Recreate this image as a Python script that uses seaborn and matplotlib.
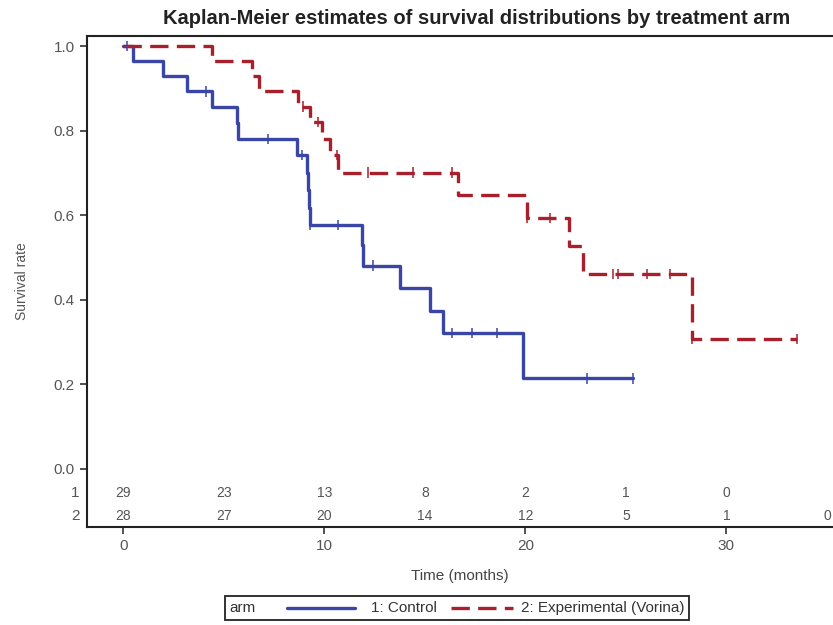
import numpy as np
import pandas as pd
import matplotlib
matplotlib.use('Agg')
import matplotlib.pyplot as plt
import seaborn as sns
from matplotlib.lines import Line2D
from matplotlib.offsetbox import AnchoredOffsetbox, HPacker, TextArea, DrawingArea
from matplotlib import transforms

# Kaplan-Meier steps (months, survival)
ctrl_time = [0, 0.50, 1.99, 3.18, 4.40, 5.64, 5.72, 8.66, 9.12, 9.17, 9.22, 9.27,
             11.86, 11.93, 13.77, 15.26, 15.92, 19.87, 25.36]
ctrl_surv = [1.0, 0.964, 0.929, 0.893, 0.856, 0.818, 0.781, 0.742, 0.701, 0.660, 0.618, 0.577,
             0.529, 0.481, 0.428, 0.374, 0.321, 0.214, 0.214]
ctrl_cens_time = [0.17, 4.11, 7.20, 8.88, 9.29, 10.68, 12.42, 16.34, 17.33, 18.58, 23.05, 25.36]
ctrl_cens_surv = [1.0, 0.893, 0.781, 0.742, 0.577, 0.577, 0.481, 0.321, 0.321, 0.321, 0.214, 0.214]

exp_time = [0, 4.40, 6.39, 6.77, 8.69, 9.29, 9.87, 10.28, 10.67, 16.67, 20.07, 22.17, 22.87, 28.28, 33.52]
exp_surv = [1.0, 0.964, 0.929, 0.893, 0.857, 0.820, 0.781, 0.742, 0.701, 0.647, 0.593, 0.527, 0.461, 0.307, 0.307]
exp_cens_time = [8.94, 9.69, 10.63, 12.17, 14.41, 16.35, 20.07, 21.23, 24.36, 24.61, 26.05, 27.20, 28.28, 33.52]
exp_cens_surv = [0.857, 0.820, 0.742, 0.701, 0.701, 0.701, 0.593, 0.593, 0.461, 0.461, 0.461, 0.461, 0.307, 0.307]

# numbers at risk
risk_times = [0, 5, 10, 15, 20, 25, 30, 35]
ctrl_risk = [29, 23, 13, 8, 2, 1, 0, None]
exp_risk = [28, 27, 20, 14, 12, 5, 1, 0]

arms = ['1: Control', '2: Experimental (Vorina)']
colors = {arms[0]: '#3a46a6', arms[1]: '#a8202c'}

df = pd.concat([
    pd.DataFrame({'time': ctrl_time, 'surv': ctrl_surv, 'arm': arms[0]}),
    pd.DataFrame({'time': exp_time, 'surv': exp_surv, 'arm': arms[1]}),
], ignore_index=True)
df_cens = pd.concat([
    pd.DataFrame({'time': ctrl_cens_time, 'surv': ctrl_cens_surv, 'arm': arms[0]}),
    pd.DataFrame({'time': exp_cens_time, 'surv': exp_cens_surv, 'arm': arms[1]}),
], ignore_index=True)

sns.set_theme(style='ticks')
plt.rcParams['font.family'] = ['Liberation Sans', 'DejaVu Sans']

fig = plt.figure(figsize=(8.33, 6.25), dpi=100)
ax = fig.add_axes([0.104, 0.157, 0.896, 0.7854])

sns.lineplot(data=df, x='time', y='surv', hue='arm', style='arm', hue_order=arms,
             palette=colors, dashes={arms[0]: '', arms[1]: (5.5, 2.5)},
             estimator=None, sort=True, drawstyle='steps-post', linewidth=2.4,
             legend=False, ax=ax)
sns.scatterplot(data=df_cens, x='time', y='surv', hue='arm', hue_order=arms,
                palette=colors, marker='|', s=55, linewidth=1.1, legend=False, ax=ax, zorder=3)

ax.set_xlim(-1.82, 35.3)
ax.set_ylim(-0.137, 1.024)
ax.set_xticks([0, 10, 20, 30])
ax.set_yticks([0.0, 0.2, 0.4, 0.6, 0.8, 1.0])
ax.set_yticklabels(['0.0', '0.2', '0.4', '0.6', '0.8', '1.0'])
ax.tick_params(axis='both', labelsize=11, labelcolor='#555555', length=5, width=1.2,
               color='#333333', direction='out')
for sp in ['left', 'top', 'bottom']:
    ax.spines[sp].set_linewidth(1.5)
    ax.spines[sp].set_color('#222222')
ax.spines['right'].set_visible(False)

ax.set_xlabel('Time (months)', fontsize=11, color='#444444', labelpad=12)
ax.set_ylabel('Survival rate', fontsize=10, color='#555555', labelpad=18)
ax.set_title('Kaplan-Meier estimates of survival distributions by treatment arm',
             fontsize=14.5, fontweight='bold', color='#222222', pad=9, x=0.522)

# risk table inside the axes
row_y = [-0.057, -0.111]
for yv, counts in zip(row_y, [ctrl_risk, exp_risk]):
    for t, n in zip(risk_times, counts):
        if n is not None:
            ax.text(t, yv, str(n), ha='center', va='center', fontsize=10, color='#555555')
trans = transforms.blended_transform_factory(ax.transAxes, ax.transData)
for yv, lab in zip(row_y, ['1', '2']):
    ax.annotate(lab, xy=(0, yv), xycoords=trans, xytext=(-5, 0), textcoords='offset points',
                ha='right', va='center', fontsize=11, color='#555555')

# legend row: arm label, two line samples, two labels, inside one box
da1 = DrawingArea(83.5, 8, 0, 0)
da1.add_artist(Line2D([23, 72], [4, 4], color=colors[arms[0]], lw=2.4))
da2 = DrawingArea(60.5, 8, 0, 0)
da2.add_artist(Line2D([10, 54.6], [4, 4], color=colors[arms[1]], lw=2.4, dashes=(5.5, 2.5)))
tp = dict(fontsize=11, color='#333333')
box = HPacker(children=[TextArea('arm', textprops=tp), da1, TextArea(arms[0], textprops=tp),
                        da2, TextArea(arms[1], textprops=tp)],
              align='center', pad=0, sep=0)
anch = AnchoredOffsetbox(loc='center', child=box, pad=0.3, borderpad=0, frameon=True,
                         bbox_to_anchor=(457 / 833, 1 - 608 / 625),
                         bbox_transform=fig.transFigure)
anch.patch.set_edgecolor('#222222')
anch.patch.set_linewidth(1.3)
fig.add_artist(anch)

fig.savefig('out.png', dpi=100)
